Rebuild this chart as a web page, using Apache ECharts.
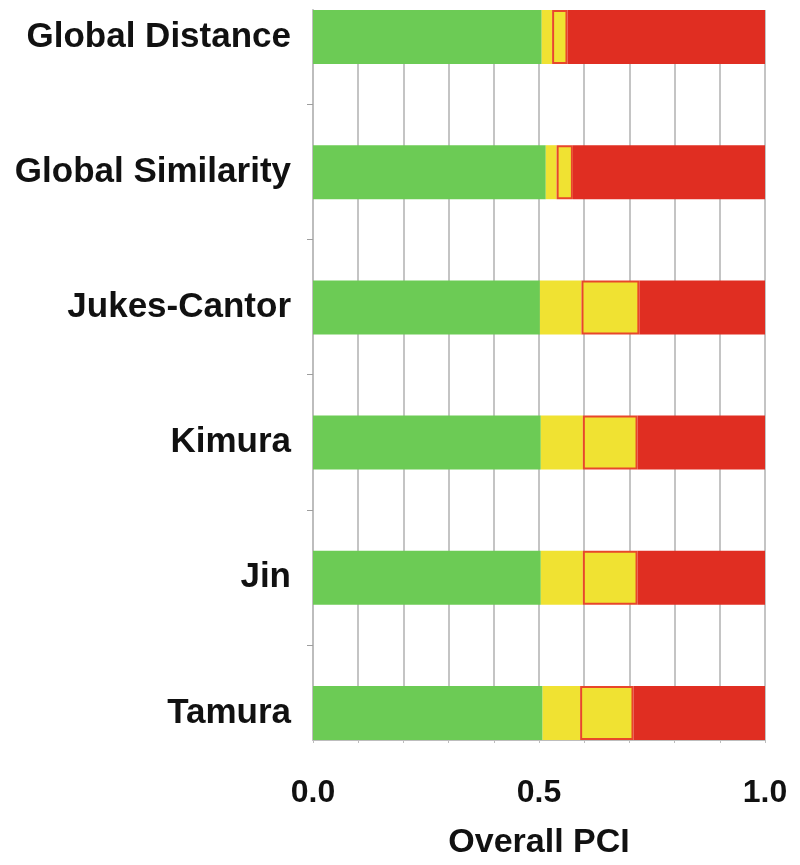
<!DOCTYPE html>
<html>
<head>
<meta charset="utf-8">
<script src="https://cdn.jsdelivr.net/npm/echarts@6/dist/echarts.min.js"></script>
<style>
  html, body { margin: 0; padding: 0; background: #fff; }
  #chart { width: 800px; height: 865px; }
</style>
</head>
<body>
<div id="chart"></div>
<script>
// categories, top to bottom
const methods = ['Global Distance', 'Global Similarity', 'Jukes-Cantor', 'Kimura', 'Jin', 'Tamura']
// where each coloured segment ends on the PCI axis
const greenEnd = [0.506, 0.515, 0.502, 0.504, 0.504, 0.508]
const yellowEnd = [0.529, 0.539, 0.594, 0.597, 0.597, 0.591]
const boxEnd = [0.563, 0.575, 0.722, 0.718, 0.718, 0.709]
const xTicks = [0.0, 0.5, 1.0]

const font = 'Liberation Sans'
const gridLeft = 313
const gridWidth = 452

// segment widths for the stack
const greenPart = greenEnd.map((v) => v)
const yellowPart = yellowEnd.map((v, i) => +(v - greenEnd[i]).toFixed(3))
const boxPart = boxEnd.map((v, i) => +(v - yellowEnd[i]).toFixed(3))
const redPart = boxEnd.map((v) => +(1 - v).toFixed(3))

const myChart = echarts.init(document.getElementById('chart'))

function seg(name, data, color, extra) {
  return Object.assign({
    name: name,
    type: 'bar',
    stack: 'pci',
    xAxisIndex: 1,
    yAxisIndex: 1,
    barWidth: 54,
    clip: false,
    silent: true,
    data: data,
    itemStyle: { color: color },
  }, extra || {})
}

myChart.setOption({
  animation: false,
  grid: [
    // visible plot frame
    { left: gridLeft, width: gridWidth, top: 10, height: 730 },
    // category centres
    { left: gridLeft, width: gridWidth, top: 37, height: 676 },
    // ticks between categories
    { left: gridLeft, width: gridWidth, top: 104, height: 541 },
  ],
  xAxis: [
    {
      gridIndex: 0,
      type: 'value',
      min: 0,
      max: 1,
      interval: 0.1,
      name: 'Overall PCI',
      nameLocation: 'middle',
      nameGap: 86,
      nameTextStyle: { fontFamily: font, fontWeight: 'bold', fontSize: 34, color: '#111' },
      axisLine: { show: true, lineStyle: { color: '#bdbdbd', width: 1 } },
      axisTick: { show: true, length: 3, lineStyle: { color: '#bdbdbd', width: 1 } },
      splitLine: { show: true, lineStyle: { color: '#c4c4c4', width: 2 } },
      axisLabel: {
        margin: 37,
        fontFamily: font,
        fontWeight: 'bold',
        fontSize: 32,
        color: '#111',
        formatter: function (value) {
          const hit = xTicks.find((t) => Math.abs(t - value) < 1e-6)
          return hit === undefined ? '' : hit.toFixed(1)
        },
      },
    },
    { gridIndex: 1, type: 'value', min: 0, max: 1, show: false },
    { gridIndex: 2, type: 'value', min: 0, max: 1, show: false },
  ],
  yAxis: [
    {
      gridIndex: 0,
      type: 'value',
      min: 0,
      max: 1,
      axisLine: { show: true, lineStyle: { color: '#bdbdbd', width: 2 } },
      axisTick: { show: false },
      axisLabel: { show: false },
      splitLine: { show: false },
    },
    {
      gridIndex: 1,
      type: 'category',
      inverse: true,
      boundaryGap: false,
      data: methods,
      axisLine: { show: false },
      axisTick: { show: false },
      axisLabel: {
        margin: 22,
        padding: [4, 0, 0, 0],
        fontFamily: font,
        fontWeight: 'bold',
        fontSize: 35,
        color: '#111',
      },
    },
    {
      gridIndex: 2,
      type: 'value',
      min: 0,
      max: 4,
      interval: 1,
      axisLine: { show: false },
      axisTick: { show: true, length: 6, lineStyle: { color: '#9e9e9e', width: 1 } },
      axisLabel: { show: false },
      splitLine: { show: false },
    },
  ],
  series: [
    seg('low', greenPart, '#6ccb55'),
    seg('mid', yellowPart, '#f0e232'),
    seg('median', boxPart, '#f0e232', {
      itemStyle: { color: '#f0e232', borderColor: '#e8472a', borderWidth: 2 },
    }),
    seg('high', redPart, '#e02e22'),
  ],
})
</script>
</body>
</html>
